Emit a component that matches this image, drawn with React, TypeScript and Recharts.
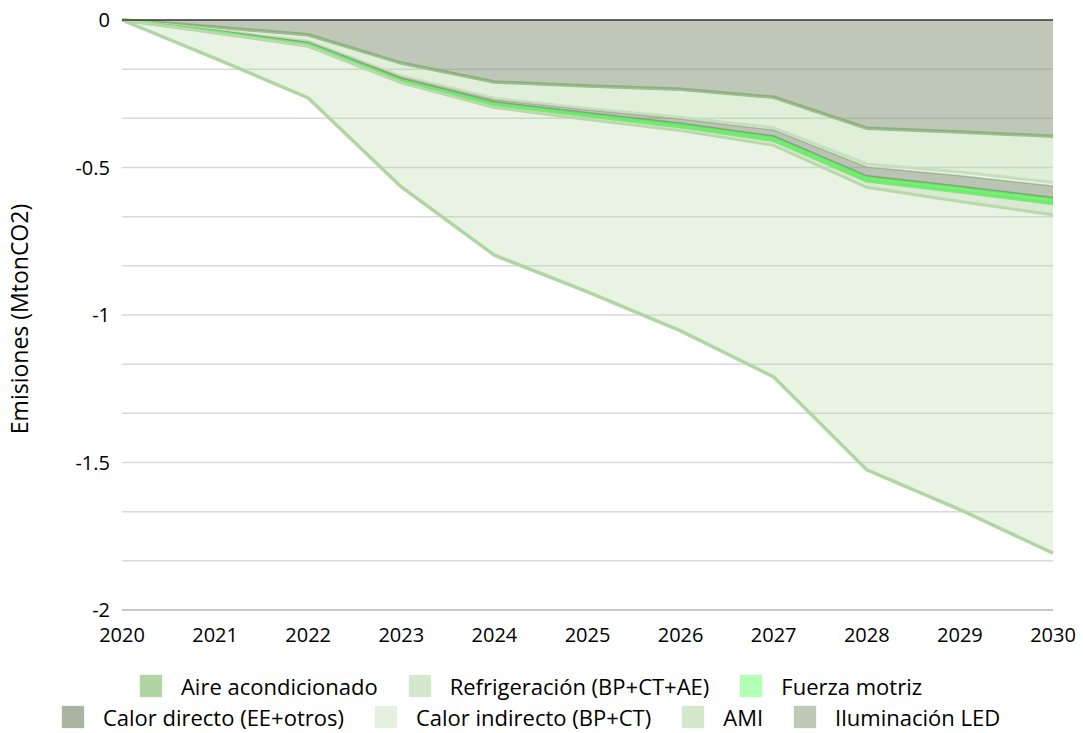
import React from "react";
import { AreaChart, Area, XAxis, YAxis, CartesianGrid, ReferenceLine } from "recharts";

const years = ["2020", "2021", "2022", "2023", "2024", "2025", "2026", "2027", "2028", "2029", "2030"];

// Series contributions (MtonCO2), stacked downward from 0 in this order
const iluminacionLED = [0, -0.024, -0.05, -0.146, -0.21, -0.224, -0.235, -0.262, -0.367, -0.38, -0.394];
const ami = [0, -0.01, -0.022, -0.044, -0.055, -0.076, -0.095, -0.103, -0.121, -0.135, -0.156];
const calorIndirecto = [0, -0.001, -0.002, -0.003, -0.005, -0.005, -0.006, -0.008, -0.01, -0.013, -0.013];
const calorDirecto = [0, -0.002, -0.005, -0.007, -0.009, -0.011, -0.016, -0.022, -0.032, -0.037, -0.04];
const fuerzaMotriz = [0, -0.004, -0.005, -0.006, -0.008, -0.009, -0.01, -0.013, -0.015, -0.017, -0.019];
const refrigeracion = [0, -0.003, -0.005, -0.007, -0.01, -0.012, -0.013, -0.017, -0.022, -0.033, -0.038];
const aireAcondicionado = [0, -0.086, -0.175, -0.353, -0.5, -0.585, -0.679, -0.785, -0.958, -1.045, -1.147];

const yGridValues = [0, -0.1667, -0.3333, -0.5, -0.6667, -0.8333, -1, -1.1667, -1.3333, -1.5, -1.6667, -1.8333, -2];
const yMajorValues = [0, -0.5, -1, -1.5, -2];
const yTickLabels = ["0", "-0.5", "-1", "-1.5", "-2"];

const data = years.map((y, i) => ({
  year: y,
  led: iluminacionLED[i],
  ami: ami[i],
  calorInd: calorIndirecto[i],
  calorDir: calorDirecto[i],
  fuerza: fuerzaMotriz[i],
  refrig: refrigeracion[i],
  aire: aireAcondicionado[i],
}));

const FONT = "'Open Sans', sans-serif";

const legendRow1 = [
  { name: "Aire acondicionado", color: "#b2d6a3" },
  { name: "Refrigeración (BP+CT+AE)", color: "#d5e8cc" },
  { name: "Fuerza motriz", color: "#b3ffb3" },
];
const legendRow2 = [
  { name: "Calor directo (EE+otros)", color: "#a9b5a1" },
  { name: "Calor indirecto (BP+CT)", color: "#e5f0e0" },
  { name: "AMI", color: "#d5e8cc" },
  { name: "Iluminación LED", color: "#bfc9b8" },
];

const yFormatter = (v: number) => {
  const idx = yMajorValues.findIndex((m) => Math.abs(m - v) < 1e-3);
  return idx >= 0 ? yTickLabels[idx] : "";
};

const LegendRow = ({ items, top }: { items: { name: string; color: string }[]; top: number }) => (
  <div
    style={{
      position: "absolute",
      left: 0,
      top,
      width: 1062,
      height: 26,
      display: "flex",
      justifyContent: "center",
      alignItems: "center",
      gap: 31,
      fontFamily: FONT,
      fontSize: 22,
      color: "#000",
    }}
  >
    {items.map((it) => (
      <div key={it.name} style={{ display: "flex", alignItems: "center", gap: 19 }}>
        <div style={{ width: 22, height: 22, background: it.color, boxShadow: `0 0 1px ${it.color}` }} />
        <span style={{ whiteSpace: "nowrap", lineHeight: "26px" }}>{it.name}</span>
      </div>
    ))}
  </div>
);

const YLabel = (props: any) => {
  const vb = props.viewBox || {};
  const cx = vb.x - 23;
  const cy = vb.y + vb.height / 2 + 4;
  return (
    <text
      x={cx}
      y={cy}
      transform={`rotate(-90, ${cx}, ${cy})`}
      textAnchor="middle"
      dominantBaseline="central"
      fontFamily={FONT}
      fontSize={23}
      fill="#000"
    >
      Emisiones (MtonCO2)
    </text>
  );
};

export default function App() {
  return (
    <div style={{ position: "absolute", left: 0, top: 0, width: 1083, height: 733, background: "#fff" }}>
      <AreaChart
        width={1083}
        height={650}
        data={data}
        margin={{ top: 20, right: 30, bottom: 0, left: 42 }}
      >
        <CartesianGrid vertical={false} stroke="#d9d9d9" strokeWidth={1.5} />
        <XAxis
          dataKey="year"
          axisLine={{ stroke: "#bfbfbf", strokeWidth: 1.5 }}
          tickLine={false}
          tickSize={0}
          tickMargin={18}
          height={40}
          interval={0}
          tick={{ fontFamily: FONT, fontSize: 20, fill: "#000" }}
        />
        <YAxis
          type="number"
          domain={[-2, 0]}
          ticks={yGridValues}
          tickFormatter={yFormatter}
          width={80}
          axisLine={false}
          tickLine={false}
          tickSize={0}
          tickMargin={12}
          interval={0}
          tick={{ fontFamily: FONT, fontSize: 20, fill: "#000" }}
          label={<YLabel />}
        />
        <Area type="linear" dataKey="led" stackId="s" isAnimationActive={false}
          fill="#8a9a7e" fillOpacity={0.55} stroke="#8db07f" strokeWidth={3.5} />
        <Area type="linear" dataKey="ami" stackId="s" isAnimationActive={false}
          fill="#b2d6a3" fillOpacity={0.4} stroke="#c8e0bd" strokeWidth={3} />
        <Area type="linear" dataKey="calorInd" stackId="s" isAnimationActive={false}
          fill="#c6e0bb" fillOpacity={0.4} stroke="#b9c9b0" strokeWidth={1.5} />
        <Area type="linear" dataKey="calorDir" stackId="s" isAnimationActive={false}
          fill="#7f9373" fillOpacity={0.55} stroke="#8c9a85" strokeWidth={2.5} />
        <Area type="linear" dataKey="fuerza" stackId="s" isAnimationActive={false}
          fill="#5ef05e" fillOpacity={0.85} stroke="#66f066" strokeWidth={3.5} />
        <Area type="linear" dataKey="refrig" stackId="s" isAnimationActive={false}
          fill="#a9d19a" fillOpacity={0.45} stroke="#bcd9ae" strokeWidth={3} />
        <Area type="linear" dataKey="aire" stackId="s" isAnimationActive={false}
          fill="#b2d6a3" fillOpacity={0.3} stroke="#b2d6a3" strokeWidth={3.5} />
        <ReferenceLine y={0} stroke="#3a3a3a" strokeWidth={1.5} />
      </AreaChart>
      <LegendRow items={legendRow1} top={673} />
      <LegendRow items={legendRow2} top={704} />
    </div>
  );
}
